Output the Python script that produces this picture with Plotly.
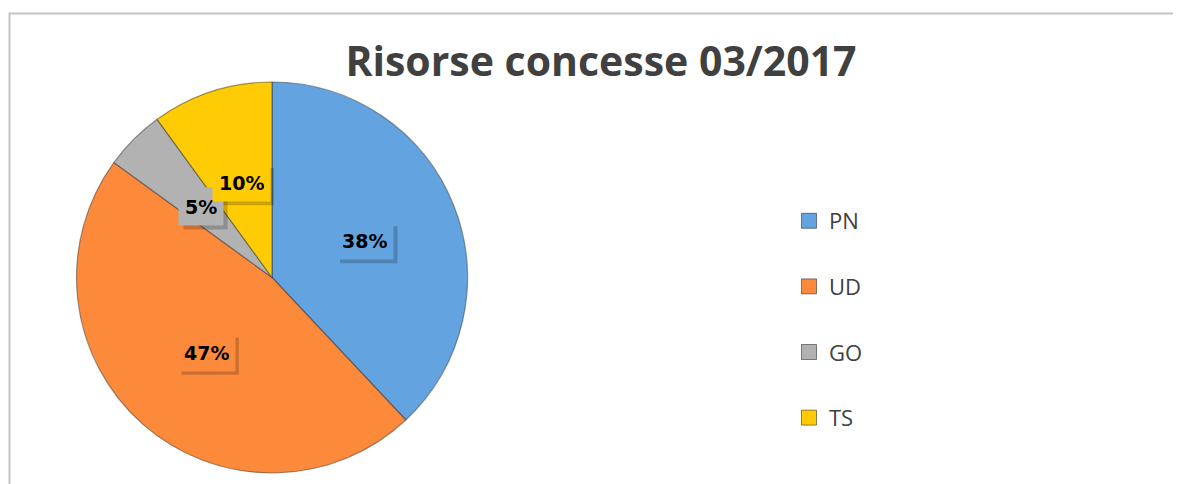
import math
import plotly.graph_objects as go

# ---- data ----
labels = ["PN", "UD", "GO", "TS"]
values = [38, 47, 5, 10]
colors = ["#62A3E0", "#FD8A3B", "#B2B2B2", "#FFCB05"]
title_text = "Risorse concesse 03/2017"

# page body adds an 8px margin; figure sized to fill the rest of the window
OFF = 8
W, H = 1181 - OFF, 484 - OFF
# pie geometry (screen pixels -> figure pixels)
cx, cy, R = 272 - OFF, 277.5 - OFF, 195.5
LABEL_SIZE = 19

fig = go.Figure()
fig.add_trace(go.Pie(
    labels=labels, values=values, sort=False, direction="clockwise", rotation=0,
    marker=dict(colors=colors, line=dict(color="rgba(40,40,40,0.45)", width=1.2)),
    textinfo="none", hoverinfo="label+percent", showlegend=False,
    domain=dict(x=[(cx - R) / W, (cx + R) / W], y=[1 - (cy + R) / H, 1 - (cy - R) / H]),
))

# legend entries via dummy traces (one group each to control spacing)
for lab, col in zip(labels, colors):
    fig.add_trace(go.Scatter(
        x=[None], y=[None], mode="markers", name=lab, legendgroup=lab,
        marker=dict(symbol="square", size=15, color=col,
                    line=dict(color="rgba(0,0,0,0.45)", width=1)),
    ))

# border of the chart area
shapes = [dict(type="rect", xref="paper", yref="paper",
               x0=1.5 / W, x1=1.02, y0=-0.05, y1=1 - (13.5 - OFF) / H,
               line=dict(color="#C4C4C4", width=2), fillcolor="rgba(0,0,0,0)",
               layer="below")]

# data labels computed from the values
total = sum(values)
annotations = []
cum = 0
for v, col in zip(values, colors):
    mid = (cum + v / 2) / total * 2 * math.pi
    cum += v
    px = cx + 0.51 * R * math.sin(mid)
    py = cy - 0.51 * R * math.cos(mid)
    pct = f"{round(v / total * 100)}%"
    ax, ay = px / W, 1 - py / H
    # soft shadow behind the label box (pixel-sized shape anchored at the label)
    bw = (len(pct) - 1) * 0.696 * LABEL_SIZE + 1.0 * LABEL_SIZE + 12
    bh = 37
    shapes.append(dict(type="rect", xref="paper", yref="paper",
                       xsizemode="pixel", ysizemode="pixel", xanchor=ax, yanchor=ay,
                       x0=-bw / 2 + 4, x1=bw / 2 + 4, y0=-bh / 2 - 4, y1=bh / 2 - 4,
                       fillcolor="rgba(0,0,0,0.2)", line=dict(width=0), layer="above"))
    annotations.append(dict(
        x=ax, y=ay, xref="paper", yref="paper", xanchor="center", yanchor="middle",
        showarrow=False, borderpad=6, height=25,
        text=f"<b>{pct}</b>", font=dict(family="DejaVu Sans", size=LABEL_SIZE, color="#000000"),
        bgcolor=col))

fig.update_layout(
    width=W, height=H,
    margin=dict(l=0, r=0, t=0, b=0),
    paper_bgcolor="white", plot_bgcolor="white",
    xaxis=dict(visible=False), yaxis=dict(visible=False),
    title=dict(text=f"<b>{title_text}</b>", x=(601 - OFF) / W, xanchor="center",
               y=1 - (62 - OFF) / H, yanchor="middle",
               font=dict(family="Open Sans", size=41, color="#404040")),
    legend=dict(x=(789 - OFF) / W, xanchor="left", y=1 - (200 - OFF) / H, yanchor="top",
                font=dict(family="Open Sans", size=22, color="#404040"),
                tracegroupgap=34, itemwidth=30, bgcolor="rgba(0,0,0,0)"),
    annotations=annotations,
    shapes=shapes,
    hovermode=False,
)

fig.write_html("out.html")
